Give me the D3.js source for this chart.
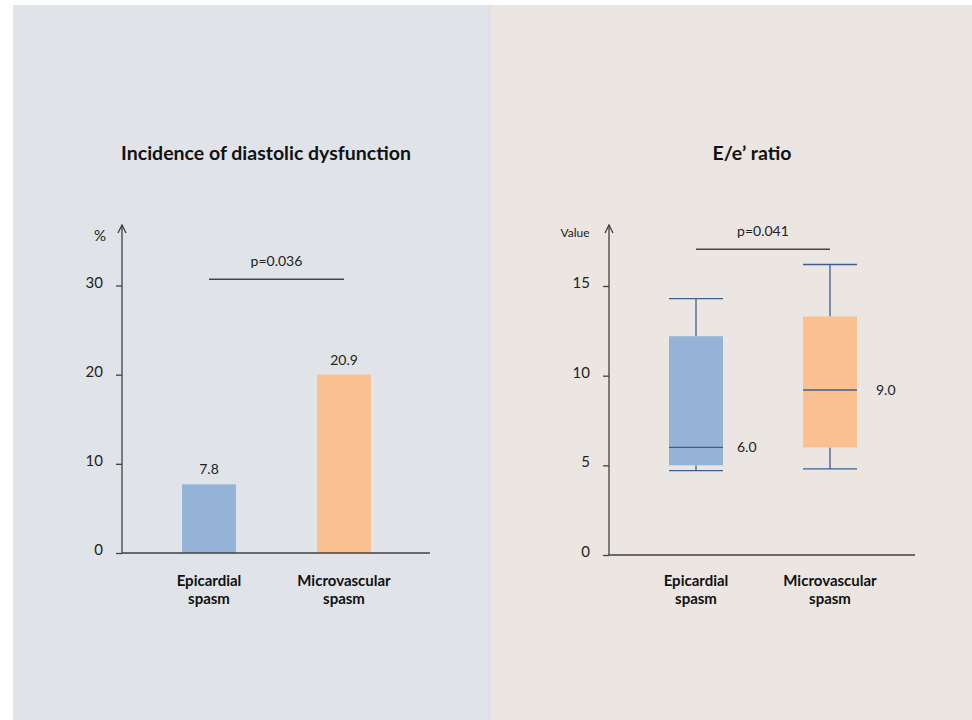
<!DOCTYPE html>
<html>
<head>
<meta charset="utf-8">
<script src="https://cdn.jsdelivr.net/npm/d3@7"></script>
<style>
  body { margin: 0; background: #fff; }
  svg text { font-family: Lato, "Open Sans", sans-serif; fill: #222; }
</style>
</head>
<body>
<div id="chart"></div>
<script>
// data
var categoryLines = [["Epicardial", "spasm"], ["Microvascular", "spasm"]];
var categories = ["Epicardial spasm", "Microvascular spasm"];

// left: incidence of diastolic dysfunction (%)
var incidenceBars = [7.7, 20.0];
var incidenceLabels = ["7.8", "20.9"];
var incidenceTicks = [0, 10, 20, 30];
var incidenceP = "p=0.036";
var incidencePLevel = 30.7;

// right: E/e' ratio box plot
var whiskerLow = [4.7, 4.8];
var q1 = [5.0, 6.0];
var median = [6.0, 9.2];
var q3 = [12.2, 13.3];
var whiskerHigh = [14.3, 16.2];
var medianLabels = ["6.0", "9.0"];
var ratioTicks = [0, 5, 10, 15];
var ratioP = "p=0.041";
var ratioPLevel = 17.05;

var svgWidth = 972;
var svgHeight = 720;

var blue = "#95b3d7";
var orange = "#fac090";
var colors = [blue, orange];
var whiskerColor = "#3d5f92";
var axisColor = "#404040";

var svg = d3.select("#chart")
    .append("svg")
    .attr("width", svgWidth)
    .attr("height", svgHeight);

// panel backgrounds
svg.append("rect")
    .attr("x", 13).attr("y", 5)
    .attr("width", 478).attr("height", svgHeight - 5)
    .attr("fill", "#e0e4e8");
svg.append("rect")
    .attr("x", 491).attr("y", 5)
    .attr("width", svgWidth - 491).attr("height", svgHeight - 5)
    .attr("fill", "#ebe6e2");

// shared axis drawing helper
function drawAxes(g, yScale, ticks, x0, x1, yTop) {
    var leftAxis = d3.axisLeft(yScale)
        .tickValues(ticks)
        .tickSize(6)
        .tickPadding(13);

    var axisG = g.append("g")
        .attr("transform", `translate(${x0}, 0)`)
        .call(leftAxis);
    axisG.select(".domain").remove();
    axisG.selectAll(".tick line").attr("stroke", axisColor).attr("stroke-width", 1.3);
    axisG.selectAll(".tick text")
        .attr("dy", "0.1em")
        .style("font-size", "15px")
        .style("font-family", "Lato, sans-serif")
        .attr("fill", "#222");

    var y0 = yScale(0);
    // vertical axis with open arrow
    g.append("line")
        .attr("x1", x0).attr("x2", x0)
        .attr("y1", y0).attr("y2", yTop)
        .attr("stroke", axisColor).attr("stroke-width", 1.3);
    g.append("path")
        .attr("d", `M${x0 - 4},${yTop + 8}L${x0},${yTop}L${x0 + 4},${yTop + 8}`)
        .attr("fill", "none")
        .attr("stroke", axisColor).attr("stroke-width", 1.3);
    // horizontal axis
    g.append("line")
        .attr("x1", x0).attr("x2", x1)
        .attr("y1", y0).attr("y2", y0)
        .attr("stroke", axisColor).attr("stroke-width", 1.3);
}

function drawCategoryLabels(g, xScale, y) {
    categories.forEach(function (c, i) {
        var t = g.append("text")
            .attr("text-anchor", "middle")
            .style("font-size", "15px")
            .style("font-weight", "bold")
            .style("fill", "#111");
        categoryLines[i].forEach(function (line, j) {
            t.append("tspan")
                .attr("x", xScale(c))
                .attr("y", y + j * 18)
                .text(line);
        });
    });
}

function drawPLine(g, xScale, yScale, level, label) {
    var yy = yScale(level);
    g.append("line")
        .attr("x1", xScale(categories[0]))
        .attr("x2", xScale(categories[1]))
        .attr("y1", yy).attr("y2", yy)
        .attr("stroke", "#444").attr("stroke-width", 1.3);
    g.append("text")
        .attr("x", (xScale(categories[0]) + xScale(categories[1])) / 2)
        .attr("y", yy - 13)
        .attr("text-anchor", "middle")
        .style("font-size", "14px")
        .text(label);
}

// ---------- left chart: bars ----------
var left = svg.append("g");

var xLeft = d3.scalePoint()
    .domain(categories)
    .range([209, 344]);

var yLeft = d3.scaleLinear()
    .domain([0, 30])
    .range([553, 285.5]);

var barWidth = 54;

left.append("text")
    .attr("x", 266).attr("y", 160)
    .attr("text-anchor", "middle")
    .style("font-size", "19.5px")
    .style("font-weight", "bold")
    .style("fill", "#111")
    .text("Incidence of diastolic dysfunction");

left.append("text")
    .attr("x", 100).attr("y", 241)
    .attr("text-anchor", "middle")
    .style("font-size", "15px")
    .text("%");

left.selectAll(".bar")
    .data(incidenceBars)
    .enter()
    .append("rect")
    .attr("class", "bar")
    .attr("x", (d, i) => xLeft(categories[i]) - barWidth / 2)
    .attr("y", d => yLeft(d))
    .attr("width", barWidth)
    .attr("height", d => yLeft(0) - yLeft(d))
    .attr("fill", (d, i) => colors[i]);

left.selectAll(".barLabel")
    .data(incidenceBars)
    .enter()
    .append("text")
    .attr("class", "barLabel")
    .attr("x", (d, i) => xLeft(categories[i]))
    .attr("y", d => yLeft(d) - 10)
    .attr("text-anchor", "middle")
    .style("font-size", "14px")
    .text((d, i) => incidenceLabels[i]);

drawAxes(left, yLeft, incidenceTicks, 122, 430, 225);
drawPLine(left, xLeft, yLeft, incidencePLevel, incidenceP);
drawCategoryLabels(left, xLeft, 586);

// ---------- right chart: box plot ----------
var right = svg.append("g");

var xRight = d3.scalePoint()
    .domain(categories)
    .range([696, 830]);

var yRight = d3.scaleLinear()
    .domain([0, 15])
    .range([555, 286]);

var boxWidth = 54;

right.append("text")
    .attr("x", 752).attr("y", 160)
    .attr("text-anchor", "middle")
    .style("font-size", "19.5px")
    .style("font-weight", "bold")
    .style("fill", "#111")
    .text("E/e\u2019 ratio");

right.append("text")
    .attr("x", 575).attr("y", 237)
    .attr("text-anchor", "middle")
    .style("font-size", "12px")
    .text("Value");

categories.forEach(function (c, i) {
    var cx = xRight(c);
    var bx = cx - boxWidth / 2;

    // whisker stems
    right.append("line")
        .attr("x1", cx).attr("x2", cx)
        .attr("y1", yRight(q3[i])).attr("y2", yRight(whiskerHigh[i]))
        .attr("stroke", whiskerColor).attr("stroke-width", 1.3);
    right.append("line")
        .attr("x1", cx).attr("x2", cx)
        .attr("y1", yRight(q1[i])).attr("y2", yRight(whiskerLow[i]))
        .attr("stroke", whiskerColor).attr("stroke-width", 1.3);

    // box
    right.append("rect")
        .attr("x", bx)
        .attr("y", yRight(q3[i]))
        .attr("width", boxWidth)
        .attr("height", yRight(q1[i]) - yRight(q3[i]))
        .attr("fill", colors[i]);

    // caps
    [whiskerHigh[i], whiskerLow[i]].forEach(function (v) {
        right.append("line")
            .attr("x1", bx).attr("x2", bx + boxWidth)
            .attr("y1", yRight(v)).attr("y2", yRight(v))
            .attr("stroke", whiskerColor).attr("stroke-width", 1.3);
    });

    // median
    right.append("line")
        .attr("x1", bx).attr("x2", bx + boxWidth)
        .attr("y1", yRight(median[i])).attr("y2", yRight(median[i]))
        .attr("stroke", whiskerColor).attr("stroke-width", 1.3);

    right.append("text")
        .attr("x", bx + boxWidth + 14 + i * 5)
        .attr("y", yRight(median[i]) + 5)
        .style("font-size", "14px")
        .text(medianLabels[i]);
});

drawAxes(right, yRight, ratioTicks, 609, 915, 225);
drawPLine(right, xRight, yRight, ratioPLevel, ratioP);
drawCategoryLabels(right, xRight, 586);
</script>
</body>
</html>
